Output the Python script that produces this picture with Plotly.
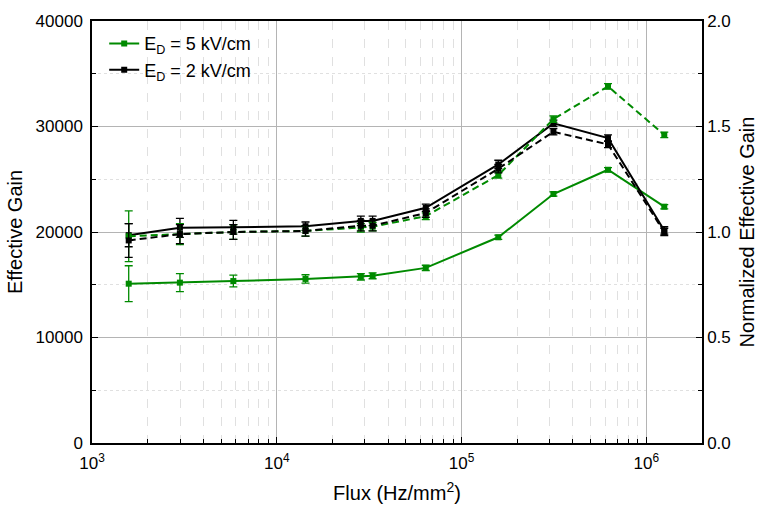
import plotly.graph_objects as go

flux = [1580, 2990, 5820, 14300, 28500, 33000, 64000, 158000, 314000, 620000, 1250000]
gain_5 = [15100, 15200, 15350, 15550, 15750, 15850, 16600, 19500, 23600, 25900, 22400]
err_5 = [1700, 850, 560, 400, 300, 280, 250, 200, 200, 200, 200]
gain_2 = [19700, 20400, 20450, 20550, 21050, 21050, 22300, 26400, 30300, 28900, 20150]
err_2 = [1100, 900, 650, 400, 450, 450, 350, 400, 300, 300, 350]
norm_5 = [0.98, 0.99, 1.0, 1.005, 1.02, 1.025, 1.075, 1.27, 1.535, 1.69, 1.46]
normerr_5 = [0.12, 0.05, 0.035, 0.025, 0.02, 0.02, 0.016, 0.015, 0.015, 0.013, 0.013]
norm_2 = [0.96, 0.99, 1.0, 1.005, 1.03, 1.03, 1.09, 1.30, 1.475, 1.415, 1.0]
normerr_2 = [0.08, 0.045, 0.035, 0.025, 0.025, 0.025, 0.02, 0.02, 0.015, 0.015, 0.017]

x_major = [1e3, 1e4, 1e5, 1e6]
x_major_text = ["10<sup>3</sup>", "10<sup>4</sup>", "10<sup>5</sup>", "10<sup>6</sup>"]
x_minor = [m * 10 ** e for e in (3, 4, 5) for m in range(2, 10)] + [2e6]
y_major = [0, 10000, 20000, 30000, 40000]
y_major_text = ["0", "10000", "20000", "30000", "40000"]
y2_major = [0, 0.5, 1.0, 1.5, 2.0]
y2_major_text = ["0.0", "0.5", "1.0", "1.5", "2.0"]

GREEN = "#008a00"
BLACK = "#000000"
FONT = "Liberation Sans, Arial, sans-serif"
DASH = "7px,4px"

fig = go.Figure()

def add(y, err, color, dash, name, axis, show):
    fig.add_trace(go.Scatter(
        x=flux, y=y, mode="lines+markers", name=name, yaxis=axis,
        showlegend=show,
        line=dict(color=color, width=2, dash=dash),
        marker=dict(symbol="square", size=6, color=color),
        error_y=dict(type="data", array=err, visible=True, color=color,
                     thickness=1.3, width=4),
    ))

add(norm_5, normerr_5, GREEN, DASH, "norm 5", "y2", False)
add(norm_2, normerr_2, BLACK, DASH, "norm 2", "y2", False)
add(gain_5, err_5, GREEN, "solid", "E<sub>D</sub> = 5 kV/cm", "y", True)
add(gain_2, err_2, BLACK, "solid", "E<sub>D</sub> = 2 kV/cm", "y", True)

fig.update_layout(
    width=767, height=513,
    margin=dict(l=92, r=58, t=14, b=70),
    paper_bgcolor="white", plot_bgcolor="white",
    font=dict(family=FONT, size=17, color="black"),
    legend=dict(x=0.02, y=0.99, xanchor="left", yanchor="top",
                bgcolor="rgba(0,0,0,0)", font=dict(size=18),
                tracegroupgap=0),
    xaxis=dict(
        type="log", range=[3, 6.30103],
        tickvals=x_major, ticktext=x_major_text,
        ticks="inside", ticklen=6, tickcolor="black",
        ticklabelstandoff=4,
        showline=True, linecolor="black", linewidth=1.5, mirror=True,
        showgrid=True, gridcolor="#b4b4b4", gridwidth=1,
        minor=dict(tickvals=x_minor, ticks="inside", ticklen=4, tickcolor="black",
                   showgrid=True, gridcolor="#e0e0e0", griddash="dash", gridwidth=1),
        title=dict(text="Flux (Hz/mm<sup>2</sup>)", font=dict(size=20), standoff=14),
        zeroline=False,
    ),
    yaxis=dict(
        range=[0, 40000], tickvals=y_major, ticktext=y_major_text,
        ticks="inside", ticklen=6, tickcolor="black",
        ticklabelstandoff=4,
        showline=True, linecolor="black", linewidth=1.5,
        showgrid=True, gridcolor="#b4b4b4", gridwidth=1,
        minor=dict(tickvals=[5000, 15000, 25000, 35000], ticks="inside", ticklen=4,
                   tickcolor="black", showgrid=True, gridcolor="#e0e0e0",
                   griddash="dot", gridwidth=1),
        title=dict(text="Effective Gain", font=dict(size=20), standoff=8),
        zeroline=False,
    ),
    yaxis2=dict(
        overlaying="y", side="right", range=[0, 2],
        tickvals=y2_major, ticktext=y2_major_text,
        ticks="inside", ticklen=6, tickcolor="black",
        showline=True, linecolor="black", linewidth=1.5,
        showgrid=False,
        minor=dict(tickvals=[0.25, 0.75, 1.25, 1.75], ticks="inside", ticklen=4,
                   tickcolor="black", showgrid=False),
        title=dict(text="Normalized Effective Gain", font=dict(size=20), standoff=10),
        zeroline=False,
    ),
)

fig.write_html("out.html")
